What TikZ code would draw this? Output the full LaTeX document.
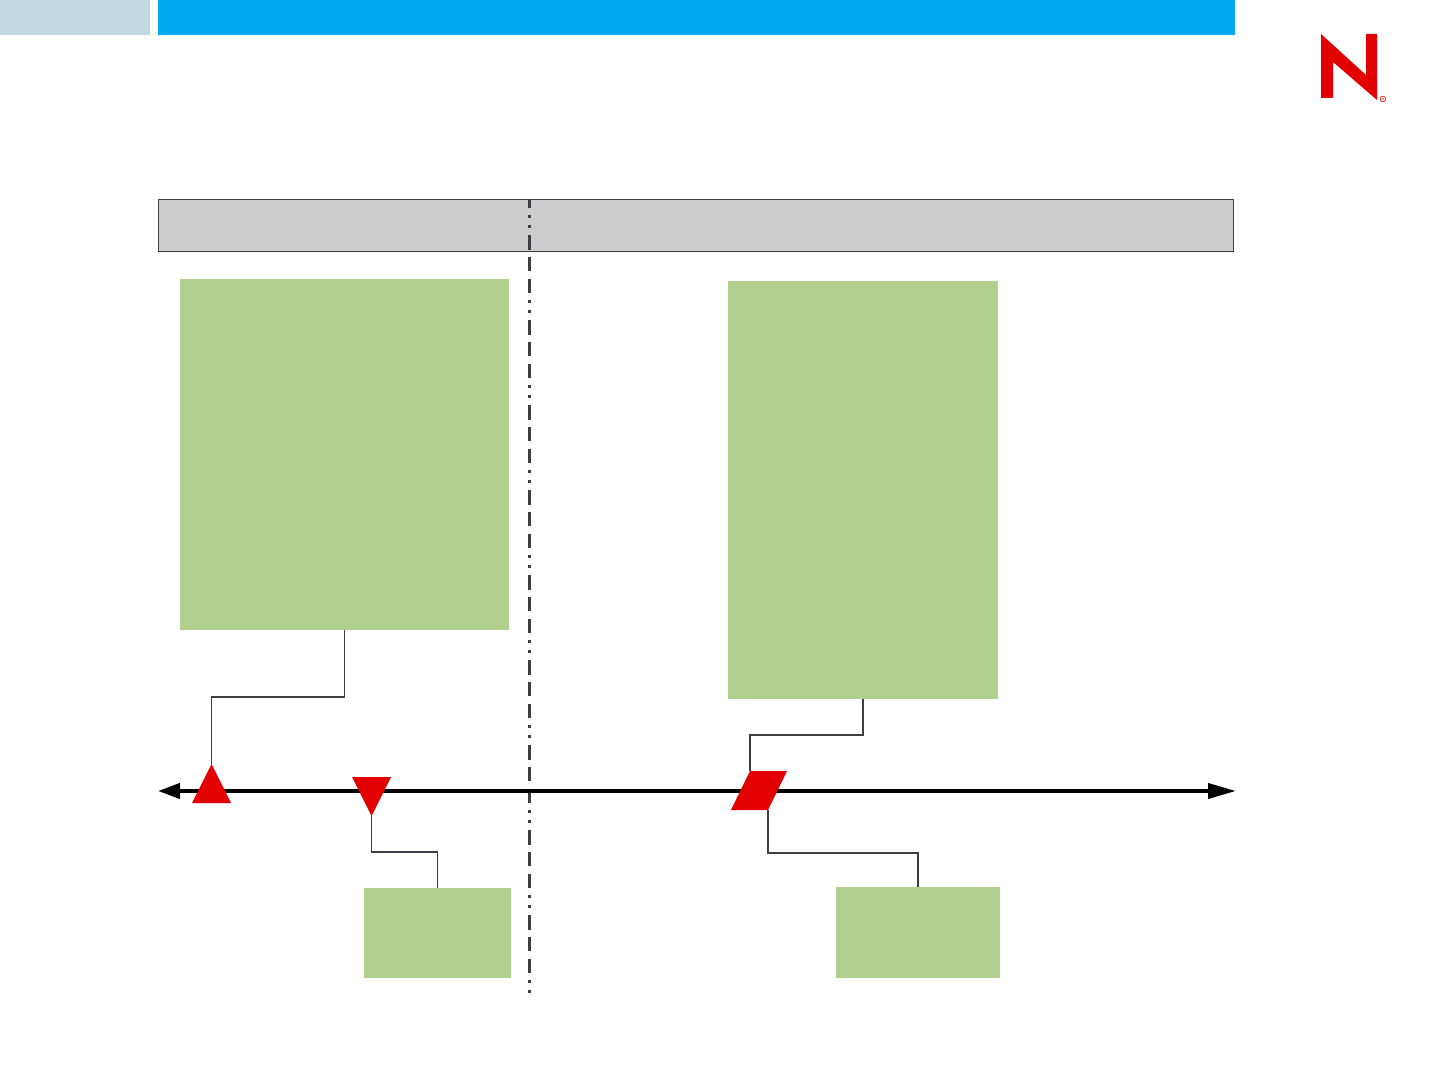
\documentclass[tikz,border=0pt]{standalone}
\usepackage{tikz}
\usetikzlibrary{positioning, shapes.geometric, arrows.meta}
\definecolor{barlight}{RGB}{195,217,225}
\definecolor{barblue}{RGB}{0,169,240}
\definecolor{boxgreen}{RGB}{177,207,143}
\definecolor{bargray}{RGB}{204,204,204}
\definecolor{linegray}{RGB}{61,61,66}
\definecolor{markred}{RGB}{226,0,0}
\tikzset{
  topbar/.style  = {rectangle, fill=#1, inner sep=0pt, outer sep=0pt,
                    minimum height=17.5pt, anchor=north west},
  phasebar/.style= {rectangle, fill=bargray, draw=linegray, line width=0.5pt,
                    inner sep=0pt, outer sep=0pt, anchor=north west,
                    minimum width=537.5pt, minimum height=26pt},
  notebox/.style = {rectangle, fill=boxgreen, inner sep=0pt, outer sep=0pt},
  upmark/.style  = {isosceles triangle, isosceles triangle stretches,
                    shape border rotate=90, fill=markred, inner sep=0pt,
                    outer sep=0pt, minimum width=19.5pt, minimum height=19.5pt,
                    anchor=apex},
  downmark/.style= {upmark, shape border rotate=270},
  slantmark/.style={trapezium, trapezium left angle=64, trapezium right angle=116,
                    fill=markred, inner sep=0pt, outer sep=0pt,
                    anchor=bottom left corner},
  lead/.style    = {draw=linegray, line width=0.75pt},
  cutline/.style = {draw=linegray, line width=1.5pt,
                    dash pattern=on 7.5pt off 3.5pt on 7pt off 4pt on 7pt off 3.5pt
                    on 1.5pt off 3.5pt on 1.5pt off 3.5pt, dash phase=24.5pt},
}
\begin{document}
\begin{tikzpicture}[x=0.5pt, y=-0.5pt]

    \useasboundingbox (0,0) rectangle (1440,1080);

    \node[topbar=barlight, minimum width=75pt] (shortbar) at (0,0) {};
    \node[topbar=barblue, minimum width=538.5pt, right=4pt of shortbar.north east, anchor=north west] (longbar) {};

    \fill[markred] (1321,34) -- (1366,75) -- (1366,34) -- (1377,34)
    -- (1377,100) -- (1333,62) -- (1333,98) -- (1321,98) -- cycle;
    \node[font=\fontsize{4.5pt}{5pt}\selectfont\bfseries, text=markred, inner sep=0pt] (regmark) at (1383,99.5) {\textregistered};

    \node[phasebar] (phases) at (158,200) {};

    \node[notebox, minimum width=164.5pt, minimum height=175.5pt,
          below right=13.5pt and 11pt of phases.south west] (noteleft) {};
    \node[notebox, minimum width=135pt, minimum height=208.75pt,
          below right=14.5pt and 285pt of phases.south west] (noteright) {};
    \node[notebox, minimum width=73.5pt, minimum height=45pt, anchor=north west] (smallleft) at (364,888) {};
    \node[notebox, minimum width=82pt, minimum height=45.5pt, anchor=north west] (smallright) at (836,887) {};

    \coordinate (cuttop) at (529,199);
    \coordinate (cutend) at (529,993);
    \draw[cutline] (cuttop) -- (cutend);

    \coordinate (axisleft) at (158,791);
    \coordinate (axisright) at (1236,791);
    \draw[{Triangle[length=11pt,width=7.5pt]}-{Triangle[length=14pt,width=7.5pt]}, line width=2pt] (axisleft) -- (axisright);

    \node[upmark] (markone) at (211.5,764) {};
    \node[downmark] (marktwo) at (371.5,816) {};
    \node[slantmark] (markthree) at (731,810) {\phantom{\rule{9pt}{19.5pt}}};

    \draw[lead] (noteleft.south) -- ++(0,67) -| (markone.apex);
    \draw[lead] (marktwo.apex) -- ++(0,36) -| (smallleft.north);
    \draw[lead] (noteright.south) -- ++(0,36.5) -| (markthree.top left corner);
    \draw[lead] (markthree.bottom right corner) -- ++(0,43) -| (smallright.north);

\end{tikzpicture}
\end{document}
